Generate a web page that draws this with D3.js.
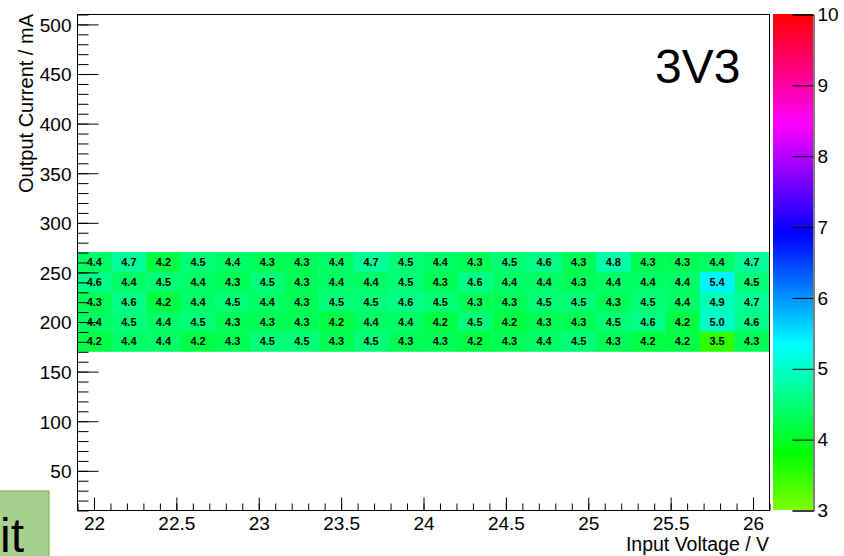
<!DOCTYPE html>
<html>
<head>
<meta charset="utf-8">
<script src="https://cdn.jsdelivr.net/npm/d3@7"></script>
<style>
  body { margin: 0; background: #fff; }
  text { font-family: "Liberation Sans", Arial, sans-serif; }
</style>
</head>
<body>
<div id="chart"></div>
<script>
// bin centres (V) of the 20 voltage bins, bin width 0.21 V
var voltages = [22.005, 22.215, 22.425, 22.635, 22.845, 23.055, 23.265, 23.475, 23.685, 23.895,
                24.105, 24.315, 24.525, 24.735, 24.945, 25.155, 25.365, 25.575, 25.785, 25.995];
// bin centres (mA), bin width 20 mA
var currents = [260, 240, 220, 200, 180];

var row260 = [4.4, 4.7, 4.2, 4.5, 4.4, 4.3, 4.3, 4.4, 4.7, 4.5, 4.4, 4.3, 4.5, 4.6, 4.3, 4.8, 4.3, 4.3, 4.4, 4.7];
var row240 = [4.6, 4.4, 4.5, 4.4, 4.3, 4.5, 4.3, 4.4, 4.4, 4.5, 4.3, 4.6, 4.4, 4.4, 4.3, 4.4, 4.4, 4.4, 5.4, 4.5];
var row220 = [4.3, 4.6, 4.2, 4.4, 4.5, 4.4, 4.3, 4.5, 4.5, 4.6, 4.5, 4.3, 4.3, 4.5, 4.5, 4.3, 4.5, 4.4, 4.9, 4.7];
var row200 = [4.4, 4.5, 4.4, 4.5, 4.3, 4.3, 4.3, 4.2, 4.4, 4.4, 4.2, 4.5, 4.2, 4.3, 4.3, 4.5, 4.6, 4.2, 5.0, 4.6];
var row180 = [4.2, 4.4, 4.4, 4.2, 4.3, 4.5, 4.5, 4.3, 4.5, 4.3, 4.3, 4.2, 4.3, 4.4, 4.5, 4.3, 4.2, 4.2, 3.5, 4.3];
var rows = [row260, row240, row220, row200, row180];

var xTicks = [22, 22.5, 23, 23.5, 24, 24.5, 25, 25.5, 26];
var yTicks = [50, 100, 150, 200, 250, 300, 350, 400, 450, 500];
var zTicks = [3, 4, 5, 6, 7, 8, 9, 10];

var xBin = 0.21, yBin = 20;

var svg = d3.select("#chart").append("svg")
    .attr("width", 844)
    .attr("height", 556);

var frame = {left: 77, right: 769, top: 14, bottom: 510};

var xScale = d3.scaleLinear().domain([21.9, 26.1]).range([frame.left, frame.right]);
var yScale = d3.scaleLinear().domain([10, 510]).range([frame.bottom, frame.top]);
var zScale = d3.scaleLinear().domain([3, 10]).range([frame.bottom, frame.top]);

// palette: hue from yellow-green (3) round to red (10)
function colour(v){
  var t = (v - 3) / 7;
  t = Math.max(0, Math.min(1, t));
  return d3.hsl(90 + t * 270, 1, 0.5).toString();
}

// cells
var cells = [];
rows.forEach(function(r, j){
  r.forEach(function(v, i){
    cells.push({x: voltages[i], y: currents[j], v: v});
  });
});

svg.selectAll(".cell")
    .data(cells)
    .enter()
    .append("rect")
    .attr("class", "cell")
    .attr("x", function(d){ return xScale(d.x - xBin / 2); })
    .attr("y", function(d){ return yScale(d.y + yBin / 2); })
    .attr("width", function(d){ return xScale(d.x + xBin / 2) - xScale(d.x - xBin / 2) + 0.5; })
    .attr("height", function(d){ return yScale(d.y - yBin / 2) - yScale(d.y + yBin / 2) + 0.5; })
    .attr("fill", function(d){ return colour(d.v); });

svg.selectAll(".val")
    .data(cells)
    .enter()
    .append("text")
    .attr("class", "val")
    .attr("x", function(d){ return xScale(d.x); })
    .attr("y", function(d){ return yScale(d.y) + 4; })
    .attr("text-anchor", "middle")
    .style("font-size", "11px")
    .style("font-weight", "bold")
    .style("fill", "#000")
    .text(function(d){ return d.v.toFixed(1); });

// frame
svg.append("rect")
    .attr("x", frame.left + 0.5)
    .attr("y", frame.top + 0.5)
    .attr("width", frame.right - frame.left)
    .attr("height", frame.bottom - frame.top)
    .attr("fill", "none")
    .attr("stroke", "#000")
    .attr("stroke-width", 1);

// y axis
var yMinor = d3.range(10, 511, 10);
svg.append("g")
    .attr("transform", "translate(" + (frame.left + 0.5) + ",0.5)")
    .call(d3.axisLeft(yScale).tickValues(yMinor).tickSize(-11).tickFormat(""))
    .call(function(g){ g.select(".domain").remove(); });
var yAx = svg.append("g")
    .attr("transform", "translate(" + (frame.left + 0.5) + ",0.5)")
    .call(d3.axisLeft(yScale).tickValues(yTicks).tickSize(-21).tickPadding(6).tickFormat(d3.format("d")));
yAx.select(".domain").remove();
yAx.selectAll("text").style("font-size", "19px").attr("fill", "#000").attr("dy", "0.36em");

// x axis
var xMinor = d3.range(219, 262, 1).map(function(d){ return d / 10; });
svg.append("g")
    .attr("transform", "translate(0.5," + (frame.bottom + 0.5) + ")")
    .call(d3.axisBottom(xScale).tickValues(xMinor).tickSize(-7).tickFormat(""))
    .call(function(g){ g.select(".domain").remove(); });
var xAx = svg.append("g")
    .attr("transform", "translate(0.5," + (frame.bottom + 0.5) + ")")
    .call(d3.axisBottom(xScale).tickValues(xTicks).tickSize(-13).tickPadding(6).tickFormat(d3.format("")));
xAx.select(".domain").remove();
xAx.selectAll("text").style("font-size", "19px").attr("fill", "#000");

// axis titles
svg.append("text")
    .attr("transform", "translate(33," + frame.top + ") rotate(-90)")
    .attr("text-anchor", "end")
    .style("font-size", "20px")
    .text("Output Current / mA");

svg.append("text")
    .attr("x", frame.right)
    .attr("y", 551)
    .attr("text-anchor", "end")
    .style("font-size", "19.5px")
    .text("Input Voltage / V");

// colour bar
var defs = svg.append("defs");
var grad = defs.append("linearGradient")
    .attr("id", "pal")
    .attr("x1", 0).attr("y1", 1)
    .attr("x2", 0).attr("y2", 0);
d3.range(0, 71).forEach(function(k){
  var v = 3 + k / 10;
  grad.append("stop")
      .attr("offset", (k / 70))
      .attr("stop-color", colour(v));
});

var bar = {x0: 773, x1: 813};
svg.append("rect")
    .attr("x", bar.x0)
    .attr("y", zScale(10))
    .attr("width", bar.x1 - bar.x0)
    .attr("height", zScale(3) - zScale(10))
    .attr("fill", "url(#pal)");

var zAx = svg.append("g")
    .attr("transform", "translate(" + (bar.x1 + 0.5) + ",0.5)")
    .call(d3.axisRight(zScale).tickValues(zTicks).tickSize(-21).tickPadding(4).tickFormat(d3.format("d")));
zAx.select(".domain").attr("stroke", "#000");
zAx.selectAll("text").style("font-size", "19px").attr("fill", "#000");

// label in the pad
svg.append("text")
    .attr("x", 655)
    .attr("y", 83)
    .style("font-size", "48px")
    .text("3V3");

// box at bottom left
svg.append("rect")
    .attr("x", -2)
    .attr("y", 491)
    .attr("width", 51)
    .attr("height", 70)
    .attr("fill", "#a9d18e")
    .attr("stroke", "#70ad47")
    .attr("stroke-width", 1);
svg.append("text")
    .attr("x", 0)
    .attr("y", 552)
    .style("font-size", "48px")
    .text("it");
</script>
</body>
</html>
